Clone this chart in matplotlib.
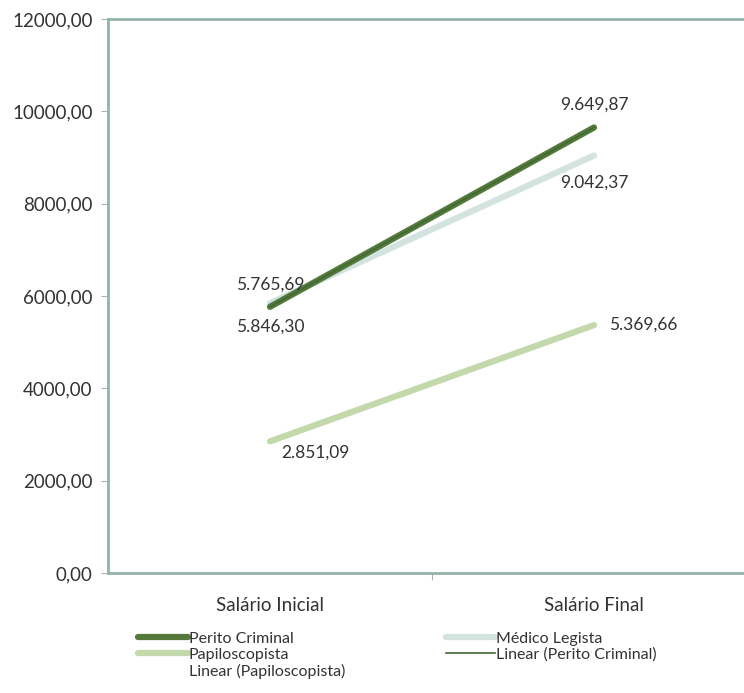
import matplotlib.pyplot as plt

plt.rcParams['font.family'] = ['Lato', 'DejaVu Sans']

# salary data (R$)
categorias = ['Salário Inicial', 'Salário Final']
perito = [5765.69, 9649.87]
medico = [5846.30, 9042.37]
papilo = [2851.09, 5369.66]
yticks = [0, 2000, 4000, 6000, 8000, 10000, 12000]


def fmt_br(v):
    s = '{:,.2f}'.format(v)
    return s.replace(',', 'X').replace('.', ',').replace('X', '.')


fig = plt.figure(figsize=(7.44, 6.93), dpi=100)
ax = fig.add_axes([108 / 744, 120 / 693, 648 / 744, 554 / 693])

x = range(len(categorias))
ax.plot(x, papilo, color='#c3d8ab', lw=1, zorder=1, label='Linear (Papiloscopista)')
ax.plot(x, medico, color='#d3e4e0', lw=4.5, solid_capstyle='round', zorder=2, label='Médico Legista')
ax.plot(x, papilo, color='#c3d8ab', lw=4.5, solid_capstyle='round', zorder=2, label='Papiloscopista')
ax.plot(x, perito, color='#55793a', lw=4.5, solid_capstyle='round', zorder=3, label='Perito Criminal')
ax.plot(x, perito, color='#3f6a35', lw=1.2, zorder=4, label='Linear (Perito Criminal)')

# value labels
tc = '#333333'
fs = 12.5
ax.text(0.0, perito[0] + 300, fmt_br(perito[0]), ha='center', va='bottom', color=tc, fontsize=fs)
ax.text(0.0, medico[0] - 330, fmt_br(medico[0]), ha='center', va='top', color=tc, fontsize=fs)
ax.text(1, perito[1] + 330, fmt_br(perito[1]), ha='center', va='bottom', color=tc, fontsize=fs)
ax.text(1, medico[1] - 420, fmt_br(medico[1]), ha='center', va='top', color=tc, fontsize=fs)
ax.text(1.045, papilo[1], fmt_br(papilo[1]), ha='left', va='center', color=tc, fontsize=fs)
ax.text(0.14, papilo[0] - 80, fmt_br(papilo[0]), ha='center', va='top', color=tc, fontsize=fs)

ax.set_xlim(-0.5, 1.5)
ax.set_ylim(0, 12000)
ax.set_yticks(yticks)
ax.set_yticklabels(['{:.2f}'.format(v).replace('.', ',') for v in yticks], fontsize=13.5, color=tc)
ax.set_xticks([0.5])
ax.set_xticklabels([''])
ax.set_xticks([0, 1], minor=True)
ax.set_xticklabels(categorias, minor=True, fontsize=13.5, color=tc)
ax.tick_params(axis='x', which='minor', length=0, pad=17)
ax.tick_params(axis='x', which='major', length=5, color='#b0b0b0')
ax.tick_params(axis='y', length=5, color='#b0b0b0', pad=6)

spine_c = '#94b3a6'
for side in ['top', 'left', 'bottom']:
    ax.spines[side].set_color(spine_c)
    ax.spines[side].set_linewidth(2)
ax.spines['right'].set_visible(False)

h, l = ax.get_legend_handles_labels()
order = ['Perito Criminal', 'Papiloscopista', 'Linear (Papiloscopista)',
         'Médico Legista', 'Linear (Perito Criminal)']
hs = [h[l.index(n)] for n in order]
leg = fig.legend(hs, order, ncol=2, loc='upper left', bbox_to_anchor=(124 / 744, 1 - 617 / 693),
                 frameon=False, fontsize=11.5, handlelength=3.1, handletextpad=0.05,
                 columnspacing=6.3, labelspacing=0.12, labelcolor=tc)
leg.legend_handles[2].set_visible(False)

fig.savefig('out.png', dpi=100)
